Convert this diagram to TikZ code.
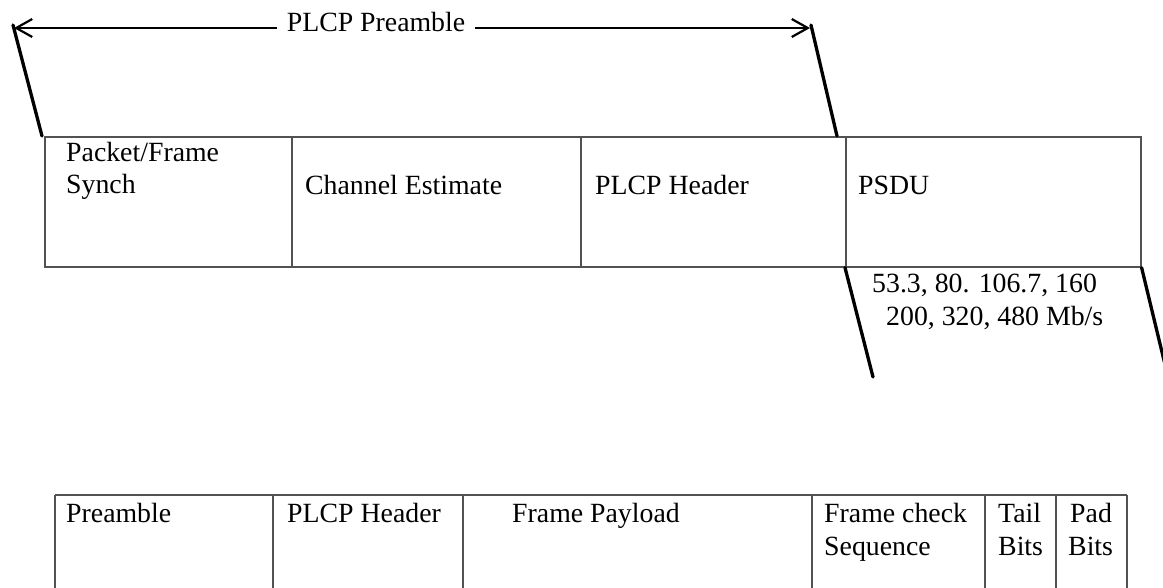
\documentclass[tikz,border=0pt]{standalone}
\usepackage{fontspec}
\setmainfont{Liberation Serif}
\usetikzlibrary{arrows.meta}
\begin{document}
\begin{tikzpicture}[x=1pt,y=-1pt,
  cell/.style={draw=black!68, line width=1.6pt, anchor=north west, inner sep=0pt},
  rule/.style={draw=black!68, line width=1.6pt},
  slant/.style={line width=3.3pt, line cap=round},
  span/.style={line width=2pt, {Straight Barb[length=16pt,width=18pt,line width=2.2pt]}-{Straight Barb[length=16pt,width=18pt,line width=2.2pt]}},
  lbl/.style={anchor=base west, inner sep=0pt, font=\fontsize{27.8}{32.5}\selectfont},
]
\useasboundingbox (0,0) rectangle (1163,588);

% upper frame: PLCP preamble fields and PSDU
\node[cell, minimum width=247pt, minimum height=130pt] (sync) at (44,136) {};
\node[cell, minimum width=289pt, minimum height=130pt] (chan) at (291,136) {};
\node[cell, minimum width=265pt, minimum height=130pt] (hdr)  at (580,136) {};
\node[cell, minimum width=295pt, minimum height=130pt] (psdu) at (845,136) {};

\node[lbl] (tsync1) at (66,162) {Packet/Frame};
\node[lbl] (tsync2) at (66,194) {Synch};
\node[lbl] (tchan)  at (305,195) {Channel Estimate};
\node[lbl] (thdr)   at (595,195) {PLCP Header};
\node[lbl] (tpsdu)  at (858,195) {PSDU};

% span of the preamble
\coordinate (pl) at (13,25);
\coordinate (pr) at (811,25);
\coordinate (al) at (14,28);
\coordinate (ar) at (810,28);
\coordinate (pbl) at (42,136);
\coordinate (pbr) at (837,136);
\draw[span] (al) -- (ar);
\node[lbl, anchor=base, fill=white, inner xsep=10pt, inner ysep=3pt] (tpre) at (376,32) {PLCP Preamble};
\draw[slant] (pl) -- (pbl);
\draw[slant] (pr) -- (pbr);

% expansion of the PSDU
\coordinate (el) at (873,377);
\coordinate (er) at (1168,377);
\draw[slant] (psdu.south west) -- (el);
\draw[slant] (psdu.south east) -- (er);
\node[lbl] (rate1) at (872,293) {53.3, 80. 106.7, 160};
\node[lbl] (rate2) at (886,326) {200, 320, 480 Mb/s};

% lower frame: PSDU fields
\coordinate (b0t) at (55,495);   \coordinate (b0b) at (55,588);
\coordinate (b1t) at (273,495);  \coordinate (b1b) at (273,588);
\coordinate (b2t) at (463,495);  \coordinate (b2b) at (463,588);
\coordinate (b3t) at (812,495);  \coordinate (b3b) at (812,588);
\coordinate (b4t) at (985,495);  \coordinate (b4b) at (985,588);
\coordinate (b5t) at (1056,495); \coordinate (b5b) at (1056,588);
\coordinate (b6t) at (1127,495); \coordinate (b6b) at (1127,588);
\draw[rule] (b0t) -- (b6t);
\foreach \i in {0,...,6} \draw[rule] (b\i t) -- (b\i b);

\node[lbl] (tpream) at (66,522)  {Preamble};
\node[lbl] (tphdr)  at (287,522) {PLCP Header};
\node[lbl] (tpay)   at (512,522) {Frame Payload};
\node[lbl] (tfcs1)  at (824,522) {Frame check};
\node[lbl] (tfcs2)  at (824,555) {Sequence};
\node[lbl] (ttail1) at (998,522) {Tail};
\node[lbl] (ttail2) at (998,555) {Bits};
\node[lbl] (tpad1)  at (1070,522) {Pad};
\node[lbl] (tpad2)  at (1068,555) {Bits};
\end{tikzpicture}
\end{document}
